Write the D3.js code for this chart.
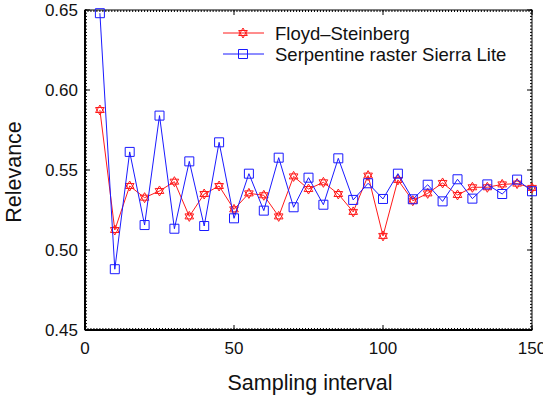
<script src="https://d3js.org/d3.v7.min.js"></script>
<html>
<body style="margin:0;background:#fff">
<div id="myPlot"></div>
</body>
<script>
    const width = 543;
    const height = 397;
    const margin = {left: 85, right: 11, top: 10, bottom: 67};

    // data
    const intervals = [5,10,15,20,25,30,35,40,45,50,55,60,65,70,75,80,85,90,95,100,105,110,115,120,125,130,135,140,145,150];
    const floyd = [0.5875,0.5125,0.540,0.5327,0.5369,0.5427,0.521,0.535,0.540,0.5254,
                   0.5354,0.5342,0.521,0.546,0.5381,0.5423,0.535,0.5238,0.5465,0.5088,
                   0.5438,0.5308,0.5354,0.5419,0.5344,0.5392,0.5392,0.541,0.5415,0.5388];
    const sierra = [0.648,0.488,0.5613,0.5156,0.584,0.5133,0.5554,0.515,0.5673,0.5198,
                    0.5477,0.5246,0.5577,0.5267,0.5452,0.5283,0.5573,0.5313,0.5417,0.5319,
                    0.5477,0.5317,0.5408,0.5304,0.5442,0.5321,0.541,0.535,0.544,0.5367];
    const xTicks = [0, 50, 100, 150];
    const yTicks = [0.45, 0.50, 0.55, 0.60, 0.65];
    const seriesNames = ["Floyd\u2013Steinberg", "Serpentine raster Sierra Lite"];

    const font = "'Liberation Sans', Arial, sans-serif";

    const svg = d3.select("#myPlot").append("svg")
        .attr("width", width)
        .attr("height", height)
        .style("font-family", font);

    const x = d3.scaleLinear().domain([0, 150]).range([margin.left, width - margin.right]);
    const y = d3.scaleLinear().domain([0.45, 0.65]).range([height - margin.bottom, margin.top]);

    const x0 = x.range()[0], x1 = x.range()[1];
    const y0 = y.range()[0], y1 = y.range()[1];

    // minor ticks round the frame
    const frame = svg.append("g").attr("stroke", "#000").attr("stroke-width", 1);
    d3.range(0, 151, 1).forEach(v => {
        frame.append("line").attr("x1", x(v)).attr("x2", x(v)).attr("y1", y0).attr("y2", y0 - 2);
        frame.append("line").attr("x1", x(v)).attr("x2", x(v)).attr("y1", y1).attr("y2", y1 + 2);
    });
    d3.range(0, 101, 1).forEach(i => {
        const v = 0.45 + i * 0.002;
        frame.append("line").attr("y1", y(v)).attr("y2", y(v)).attr("x1", x0).attr("x2", x0 + 2);
        frame.append("line").attr("y1", y(v)).attr("y2", y(v)).attr("x1", x1).attr("x2", x1 - 2);
    });

    // major ticks
    xTicks.forEach(v => {
        frame.append("line").attr("x1", x(v)).attr("x2", x(v)).attr("y1", y0).attr("y2", y0 - 5);
        frame.append("line").attr("x1", x(v)).attr("x2", x(v)).attr("y1", y1).attr("y2", y1 + 5);
    });
    yTicks.forEach(v => {
        frame.append("line").attr("y1", y(v)).attr("y2", y(v)).attr("x1", x0).attr("x2", x0 + 5);
        frame.append("line").attr("y1", y(v)).attr("y2", y(v)).attr("x1", x1).attr("x2", x1 - 5);
    });

    svg.append("rect")
        .attr("x", x0).attr("y", y1)
        .attr("width", x1 - x0).attr("height", y0 - y1)
        .attr("fill", "none").attr("stroke", "#000").attr("stroke-width", 1);
    // heavier left and bottom lines
    svg.append("line").attr("x1", x0).attr("x2", x0).attr("y1", y1).attr("y2", y0)
        .attr("stroke", "#000").attr("stroke-width", 2);
    svg.append("line").attr("x1", x0).attr("x2", x1).attr("y1", y0).attr("y2", y0)
        .attr("stroke", "#000").attr("stroke-width", 2);

    // tick labels
    svg.append("g").selectAll("text").data(xTicks).join("text")
        .attr("x", d => x(d)).attr("y", y0 + 24)
        .attr("text-anchor", "middle")
        .attr("font-size", 17)
        .attr("fill", "#111")
        .text(d => d);
    svg.append("g").selectAll("text").data(yTicks).join("text")
        .attr("x", x0 - 7).attr("y", d => y(d) + 6)
        .attr("text-anchor", "end")
        .attr("font-size", 17)
        .attr("fill", "#111")
        .text(d => d.toFixed(2));

    svg.append("text")
        .attr("x", 310).attr("y", 390)
        .attr("text-anchor", "middle")
        .attr("font-size", 21.5)
        .attr("fill", "#111")
        .text("Sampling interval");
    svg.append("text")
        .attr("transform", `translate(20.5,172) rotate(-90)`)
        .attr("text-anchor", "middle")
        .attr("font-size", 21.5)
        .attr("fill", "#111")
        .text("Relevance");

    // markers
    function starPath(r) {
        const t1 = d3.range(3).map(i => [r * Math.sin(i * 2 * Math.PI / 3), -r * Math.cos(i * 2 * Math.PI / 3)]);
        const t2 = t1.map(p => [p[0], -p[1]]);
        return "M" + t1.join("L") + "Z M" + t2.join("L") + "Z";
    }
    const squarePath = s => `M${-s},${-s}H${s}V${s}H${-s}Z`;

    const series = [
        {name: seriesNames[0], values: floyd, color: "#ff1a1a", marker: starPath(5)},
        {name: seriesNames[1], values: sierra, color: "#1a1aff", marker: squarePath(4.5)}
    ];

    const line = d3.line().x(d => x(d[0])).y(d => y(d[1]));

    series.forEach(s => {
        const pts = intervals.map((v, i) => [v, s.values[i]]);
        svg.append("path").datum(pts)
            .attr("d", line)
            .attr("fill", "none")
            .attr("stroke", s.color)
            .attr("stroke-width", 1);
        svg.append("g").selectAll("path").data(pts).join("path")
            .attr("transform", d => `translate(${x(d[0])},${y(d[1])})`)
            .attr("d", s.marker)
            .attr("fill", "none")
            .attr("stroke", s.color)
            .attr("stroke-width", 1);
    });

    // legend
    const leg = svg.append("g");
    series.forEach((s, i) => {
        const ly = 33 + i * 21;
        leg.append("line").attr("x1", 223).attr("x2", 264).attr("y1", ly).attr("y2", ly)
            .attr("stroke", s.color).attr("stroke-width", 1);
        leg.append("path").attr("transform", `translate(243,${ly})`)
            .attr("d", s.marker).attr("fill", "none").attr("stroke", s.color);
        leg.append("text").attr("x", 275).attr("y", ly + 6.5)
            .attr("font-size", 18.5).attr("fill", "#111")
            .text(s.name);
    });
</script>
</html>
